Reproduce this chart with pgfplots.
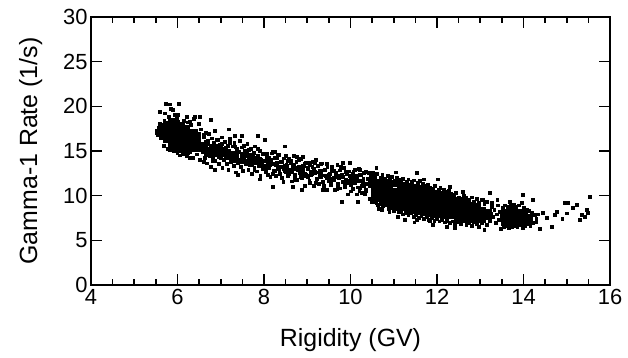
\documentclass[border=0pt]{standalone}
\usepackage{pgfplots}
\pgfplotsset{compat=1.18}
\usepackage{fontspec}
\setmainfont{Liberation Sans}
\usetikzlibrary{calc}
\begin{document}
\begin{tikzpicture}
\begin{axis}[
  scale only axis, width=519bp, height=268bp,
  xmin=4, xmax=16, ymin=0, ymax=30,
  xtick={4,6,...,16}, minor x tick num=3,
  ytick={0,5,...,30},
  tick align=inside, xtick pos=both, ytick pos=both,
  major tick length=11bp, minor tick length=6bp,
  axis line style={line width=2bp},
  every tick/.style={black, line width=1.6bp},
  /pgf/number format/assume math mode=true,
  tick label style={font=\fontsize{22}{24}\selectfont},
  xticklabel style={yshift=-1bp},
  label style={font=\fontsize{25}{27}\selectfont},
  xlabel={Rigidity (GV)}, ylabel={Gamma-1 Rate (1/s)},
  xlabel style={yshift=-17bp},
  ylabel style={yshift=14bp},
  clip=false,
]
% dense core (larger squares)
\addplot[only marks, mark=square*, mark size=2.7bp, black, mark options={line width=0pt}] coordinates {
(5.56,17.1)(5.62,16.9)(5.62,17.5)
(5.74,16.3)(5.74,16.9)(5.74,17.5)(5.74,18.0)
(5.86,15.5)(5.86,16.0)(5.86,16.6)(5.86,17.2)(5.86,17.8)(5.86,18.3)
(5.98,15.3)(5.98,15.8)(5.98,16.4)(5.98,17.0)(5.98,17.6)(5.98,18.1)
(6.10,15.1)(6.10,15.6)(6.10,16.2)(6.10,16.8)(6.10,17.4)(6.10,17.9)
(6.22,14.9)(6.22,15.4)(6.22,16.0)(6.22,16.6)(6.22,17.1)(6.22,17.6)
(6.34,15.3)(6.34,15.9)(6.34,16.5)(6.34,17.1)
(6.46,15.2)(6.46,15.8)(6.46,16.3)(6.46,16.8)
(6.62,15.0)(6.62,15.6)(6.80,14.7)(6.80,15.3)(6.98,14.5)(6.98,15.0)
(7.16,14.3)(7.34,14.0)(7.34,14.6)(7.52,13.9)(7.70,13.6)
(10.55,9.9)(10.55,10.45)(10.55,11.0)(10.55,11.6)
(10.67,9.6)(10.67,10.15)(10.67,10.7)(10.67,11.25)(10.67,11.55)
(10.79,9.35)(10.79,9.9)(10.79,10.45)(10.79,11.0)(10.79,11.5)
(10.91,9.1)(10.91,9.65)(10.91,10.2)(10.91,10.75)(10.91,11.4)
(11.03,8.9)(11.03,9.45)(11.03,10.0)(11.03,10.55)(11.03,11.3)
(11.15,8.75)(11.15,9.3)(11.15,9.85)(11.15,10.4)(11.15,10.95)(11.15,11.25)
(11.27,8.6)(11.27,9.15)(11.27,9.7)(11.27,10.25)(11.27,10.8)(11.27,11.2)
(11.39,8.45)(11.39,9.0)(11.39,9.55)(11.39,10.1)(11.39,10.65)(11.39,11.1)
(11.51,8.3)(11.51,8.85)(11.51,9.4)(11.51,9.95)(11.51,10.5)(11.51,11.0)
(11.63,8.2)(11.63,8.75)(11.63,9.3)(11.63,9.85)(11.63,10.4)(11.63,10.85)
(11.75,8.1)(11.75,8.65)(11.75,9.2)(11.75,9.75)(11.75,10.3)(11.75,10.7)
(11.87,8.0)(11.87,8.55)(11.87,9.1)(11.87,9.65)(11.87,10.2)(11.87,10.55)
(11.99,7.9)(11.99,8.45)(11.99,9.0)(11.99,9.55)(11.99,10.3)
(12.11,7.85)(12.11,8.4)(12.11,8.95)(12.11,9.5)(12.11,10.15)
(12.23,7.8)(12.23,8.35)(12.23,8.9)(12.23,9.45)(12.23,9.95)
(12.35,7.7)(12.35,8.25)(12.35,8.8)(12.35,9.35)(12.35,9.7)
(12.47,7.4)(12.47,7.95)(12.47,8.5)(12.47,9.05)(12.47,9.45)
(12.59,7.35)(12.59,7.9)(12.59,8.45)(12.59,9.0)(12.59,9.35)
(12.71,7.3)(12.71,7.85)(12.71,8.4)(12.71,8.95)(12.71,9.3)
(12.83,7.3)(12.83,7.85)(12.83,8.4)(12.83,8.9)
(12.95,7.25)(12.95,7.8)(12.95,8.35)(12.95,8.85)
(13.07,7.3)(13.07,7.85)(13.07,8.4)
(13.19,7.6)(13.19,8.2)
(13.55,7.0)(13.55,7.55)(13.55,8.1)
(13.67,6.95)(13.67,7.5)(13.67,8.05)(13.67,8.5)
(13.79,6.95)(13.79,7.5)(13.79,8.05)(13.79,8.5)
(13.91,7.0)(13.91,7.55)(13.91,8.1)
(14.03,7.0)(14.03,7.55)(14.03,8.05)
(14.15,7.1)(14.15,7.6)
};
% medium points along the middle of the band
\addplot[only marks, mark=square*, mark size=2.0bp, black, mark options={line width=0pt}] coordinates {
(6.7,15.2)(6.7,14.6)(6.9,15.5)(6.9,14.6)(7.1,14.9)(7.3,14.7)(7.3,14.1)(7.5,14.6)(7.7,14.3)(7.7,13.7)
(7.9,14.0)(8.1,13.8)(8.1,13.2)(8.3,13.5)(8.5,13.3)(8.5,12.8)(8.7,13.0)(8.9,12.9)(8.9,12.3)(9.1,12.6)
(9.3,12.5)(9.5,12.0)(9.7,12.2)(9.9,11.6)(10.1,11.9)(10.3,11.2)
};
% individual points
\addplot[only marks, mark=square*, mark size=1.4bp, black, mark options={line width=0pt}] coordinates {
(5.52,17.2)(5.55,16.8)(5.58,17.6)(5.6,18.0)(5.62,16.4)(5.65,17.9)(5.68,15.6)(5.7,18.4)(5.72,19.2)(5.75,17.0)
(5.78,15.2)(5.8,18.8)(5.82,20.2)(5.85,16.0)(5.88,18.2)(5.9,19.6)(5.92,15.0)(5.95,17.4)(5.98,18.6)(6.0,14.8)
(6.02,19.0)(6.05,15.4)(6.08,18.0)(6.1,17.8)(6.12,14.6)(6.15,18.4)(6.18,15.0)(6.2,17.6)(6.22,14.4)(6.25,18.2)
(6.28,16.8)(6.3,14.9)(6.32,17.9)(6.35,14.2)(6.38,18.6)(6.4,15.6)(6.42,17.2)(6.45,14.6)(6.48,16.4)(6.5,18.0)
(6.52,14.0)(6.55,17.4)(6.58,15.2)(6.6,16.8)(6.62,13.8)(6.65,17.0)
(8.49,15.5)(8.25,14.9)(8.76,14.3)(8.9,14.3)(9.18,13.7)(9.83,13.7)(9.99,13.7)(10.22,12.9)(10.6,13.1)(11.54,12.5)(10.52,12.5)
(8.02,16.2)(7.86,16.7)(7.49,16.7)(7.33,16.7)(7.19,17.4)(6.77,18.5)(6.52,18.8)(6.4,18.8)(6.22,18.8)(6.29,18.3)
(5.94,19.0)(5.85,19.7)(5.6,19.4)(6.03,20.3)(5.73,20.3)
(8.88,10.6)(9.36,10.6)(9.8,9.3)(10.17,9.3)(10.5,9.3)(10.73,8.4)(10.9,8.2)(11.26,7.3)(11.54,7.3)(11.84,7.1)
(6.87,12.9)(7.4,12.3)(7.9,11.8)(8.2,11.0)(8.67,11.0)(5.83,15.1)(6.06,14.5)(6.29,14.2)
(6.62,16.6)(6.64,14.2)(6.66,16.0)(6.68,13.6)(6.7,15.8)(6.72,16.9)(6.74,14.4)(6.76,15.0)(6.78,13.2)(6.8,16.4)
(6.82,14.1)(6.84,15.9)(6.86,17.2)(6.88,13.9)(6.9,15.4)(6.92,14.6)(6.94,16.2)(6.96,13.5)(6.98,15.7)(7.0,14.2)
(7.02,16.5)(7.04,13.1)(7.06,15.1)(7.08,14.0)(7.1,16.0)(7.12,14.8)(7.14,13.6)(7.16,15.6)(7.18,12.9)(7.2,15.0)
(7.22,16.3)(7.24,13.8)(7.26,14.5)(7.28,15.5)(7.3,13.3)(7.32,15.9)(7.34,14.2)(7.36,12.6)(7.38,15.2)(7.4,13.6)
(7.42,14.9)(7.44,16.1)(7.46,13.2)(7.48,14.5)(7.5,15.4)(7.52,12.8)(7.54,14.1)(7.56,15.0)(7.58,13.5)(7.6,14.7)
(7.62,15.8)(7.64,12.9)(7.66,14.3)(7.68,13.4)(7.7,15.2)(7.72,12.4)(7.74,14.0)(7.76,14.8)(7.78,13.1)(7.8,15.5)
(7.82,13.7)(7.84,12.7)(7.86,14.4)(7.88,13.3)(7.9,15.0)(7.92,12.2)(7.94,14.0)(7.96,13.5)(7.98,14.6)
(6.65,15.3)(6.71,14.8)(6.77,15.6)(6.83,14.5)(6.89,15.2)(6.95,14.9)(7.01,15.3)(7.07,14.5)(7.13,15.3)(7.19,14.2)
(7.25,14.8)(7.31,14.6)(7.37,14.3)(7.43,14.0)(7.49,13.8)(7.55,14.4)(7.61,13.9)(7.67,14.6)(7.73,13.5)(7.79,14.2)
(7.85,13.9)(7.91,13.6)(7.97,13.0)
(6.62,15.48)(6.66,14.64)(6.70,16.09)(6.74,14.85)(6.78,15.61)(6.82,13.86)(6.86,15.02)(6.90,16.28)(6.94,15.14)(6.98,14.29)
(7.02,15.75)(7.06,14.51)(7.10,15.27)(7.14,13.52)(7.18,14.68)(7.22,15.94)(7.26,14.79)(7.30,13.95)(7.34,15.41)(7.38,14.17)
(7.42,14.92)(7.46,13.18)(7.50,14.34)(7.54,15.59)(7.58,14.45)(7.62,13.61)(7.66,15.07)(7.70,13.82)(7.74,14.58)(7.78,12.84)
(7.82,13.99)(7.86,15.25)(7.90,14.11)(7.94,13.27)(7.98,14.72)(8.02,13.35)(8.06,14.04)(8.10,12.30)(8.14,13.47)(8.18,14.73)
(8.22,13.59)(8.26,12.75)(8.30,14.21)(8.34,12.97)(8.38,13.74)(8.42,12.00)(8.46,13.16)(8.50,14.42)(8.54,13.28)(8.58,12.44)
(8.62,13.90)(8.66,12.67)(8.70,13.43)(8.74,11.69)(8.78,12.85)(8.82,14.11)(8.86,12.97)(8.90,12.14)(8.94,13.60)(8.98,12.36)
(9.02,13.12)(9.06,11.38)(9.10,12.54)(9.14,13.81)(9.18,12.67)(9.22,11.83)(9.26,13.29)(9.30,12.05)(9.34,12.81)(9.38,11.08)
(9.42,12.24)(9.46,13.50)(9.50,12.36)(9.54,11.52)(9.58,12.98)(9.62,11.74)(9.66,12.51)(9.70,10.77)(9.74,11.93)(9.78,13.19)
(9.82,12.05)(9.86,11.21)(9.90,12.68)(9.94,11.44)(9.98,12.20)(10.02,10.46)(10.06,11.62)(10.10,12.88)(10.14,11.75)(10.18,10.91)
(10.22,12.37)(10.26,11.13)(10.30,11.89)(10.34,10.15)(10.38,11.32)(10.42,12.58)(10.46,11.44)
(8.02,13.88)(8.05,12.65)(8.07,14.63)(8.10,13.30)(8.12,14.18)(8.15,12.06)(8.17,13.54)(8.20,14.91)(8.22,12.79)(8.25,14.26)
(8.27,12.24)(8.30,13.71)(8.32,12.99)(8.35,14.56)(8.37,12.44)(8.40,13.22)(8.42,13.80)(8.45,11.57)(8.47,14.15)(8.50,12.72)
(8.52,13.40)(8.55,12.17)(8.57,14.15)(8.60,12.82)(8.62,13.70)(8.65,11.58)(8.67,13.06)(8.70,14.43)(8.72,12.31)(8.75,13.78)
(8.77,11.76)(8.80,13.23)(8.82,12.51)(8.85,14.08)(8.87,11.96)(8.90,12.74)(8.92,13.32)(8.95,11.09)(8.97,13.67)(9.00,12.24)
(9.02,12.92)(9.05,11.69)(9.07,13.67)(9.10,12.34)(9.12,13.22)(9.15,11.10)(9.17,12.58)(9.20,13.95)(9.22,11.83)(9.25,13.30)
(9.27,11.28)(9.30,12.75)(9.32,12.03)(9.35,13.60)(9.37,11.48)(9.40,12.26)(9.42,12.84)(9.45,10.61)(9.47,13.19)(9.50,11.76)
(9.52,12.44)(9.55,11.21)(9.57,13.19)(9.60,11.86)(9.62,12.74)(9.65,10.62)(9.67,12.10)(9.70,13.47)(9.72,11.35)(9.75,12.82)
(9.77,10.80)(9.80,12.27)(9.82,11.55)(9.85,13.12)(9.87,11.00)(9.90,11.78)(9.92,12.36)(9.95,10.13)(9.97,12.71)(10.00,11.28)
(10.02,11.96)(10.05,10.73)(10.07,12.71)(10.10,11.38)(10.12,12.26)(10.15,10.14)(10.17,11.62)(10.20,12.99)(10.22,10.87)(10.25,12.34)
(10.27,10.32)(10.30,11.79)(10.32,11.07)(10.35,12.64)(10.37,10.52)(10.40,11.30)(10.42,11.88)(10.45,9.65)(10.47,12.23)
(8.01,13.09)(8.06,14.34)(8.11,13.39)(8.16,13.95)(8.21,12.40)(8.26,13.55)(8.31,14.50)(8.36,12.55)(8.41,13.81)(8.46,12.96)
(8.51,12.61)(8.56,13.86)(8.61,12.91)(8.66,13.47)(8.71,11.92)(8.76,13.07)(8.81,14.02)(8.86,12.07)(8.91,13.33)(8.96,12.48)
(9.01,12.13)(9.06,13.38)(9.11,12.43)(9.16,12.99)(9.21,11.44)(9.26,12.59)(9.31,13.54)(9.36,11.59)(9.41,12.85)(9.46,12.00)
(9.51,11.65)(9.56,12.90)(9.61,11.95)(9.66,12.51)(9.71,10.96)(9.76,12.11)(9.81,13.06)(9.86,11.11)(9.91,12.37)(9.96,11.52)
(10.01,11.17)(10.06,12.42)(10.11,11.47)(10.16,12.03)(10.21,10.48)(10.26,11.63)(10.31,12.58)(10.36,10.63)(10.41,11.89)(10.46,11.04)
(10.48,11.9)(10.52,12.2)(10.58,12.1)(10.62,12.4)(10.7,12.0)(10.74,12.3)(10.8,11.9)(10.86,12.2)(10.92,11.8)(10.96,12.1)
(11.02,11.7)(11.08,12.0)(11.12,11.8)(11.18,11.6)(11.22,11.9)(11.3,11.5)(11.34,11.8)(11.42,11.5)(11.46,11.7)(11.56,11.4)
(11.6,11.6)(11.68,11.3)(11.72,11.1)(11.8,11.2)(11.84,10.9)(11.92,10.8)(11.96,11.1)(12.04,10.7)(12.08,10.9)(12.16,10.6)
(12.2,10.4)(12.28,10.5)(12.32,10.2)(12.4,10.1)(12.44,10.3)(11.06,12.6)(11.7,11.8)(12.02,11.8)(12.3,11.0)
(10.48,9.6)(10.54,9.3)(10.6,9.2)(10.64,9.0)(10.7,9.1)(10.76,8.8)(10.82,8.9)(10.88,8.5)(10.94,8.6)(11.0,8.3)
(11.06,8.5)(11.12,8.2)(11.18,8.3)(11.22,7.9)(11.28,8.1)(11.34,7.8)(11.4,8.0)(11.46,7.6)(11.52,7.8)(11.58,7.5)
(11.64,7.7)(11.7,7.4)(11.76,7.6)(11.82,7.3)(11.88,7.5)(11.94,7.2)(12.0,7.4)(12.06,7.1)(12.12,7.3)(12.18,7.0)
(12.24,7.2)(12.3,6.9)(12.36,7.1)(12.42,6.8)(10.66,8.5)(11.1,7.6)(11.48,7.0)(11.9,6.7)(12.23,6.5)(12.42,6.4)
(12.5,9.8)(12.56,9.6)(12.62,10.0)(12.68,9.7)(12.74,9.5)(12.8,9.8)(12.86,9.3)(12.92,9.6)(12.98,9.2)(13.04,9.5)
(13.1,9.1)(13.16,9.3)(13.22,10.3)(13.06,9.5)(12.6,10.4)
(12.5,7.0)(12.56,6.8)(12.62,7.1)(12.68,6.7)(12.74,6.9)(12.8,6.6)(12.86,7.0)(12.92,6.8)(12.98,6.5)(13.04,6.9)
(13.1,6.2)(13.16,6.7)
(13.22,7.2)(13.25,8.0)(13.28,8.7)(13.3,7.6)(13.33,8.4)(13.36,6.9)(13.38,7.9)(13.41,8.9)(13.44,7.3)(13.46,8.2)
(13.48,6.3)(13.5,7.7)(13.27,9.2)(13.4,9.5)
(13.52,8.6)(13.58,8.9)(13.64,8.7)(13.69,9.3)(13.72,8.8)(13.78,9.0)(13.84,8.7)(13.9,8.9)(13.96,9.2)(13.99,10.1)
(14.02,8.6)(14.08,8.4)(14.14,8.3)(14.2,8.1)(14.22,9.5)(14.26,7.8)(14.3,7.4)(14.34,7.9)
(13.54,6.5)(13.6,6.6)(13.66,6.4)(13.73,6.5)(13.8,6.6)(13.86,6.5)(13.92,6.7)(13.98,6.4)(14.04,6.6)(14.1,6.8)
(14.16,6.6)(14.22,6.9)(14.28,7.0)(14.38,6.3)
(14.45,8.05)(14.66,6.5)(14.73,7.8)(14.78,8.2)(14.96,9.2)(15.03,9.2)(15.0,8.0)(15.24,9.0)(15.3,7.3)(15.35,7.8)
(15.47,8.4)(15.5,8.05)(15.54,9.85)(14.55,7.5)(14.9,7.4)(15.15,8.6)(15.42,7.6)
};
\end{axis}
\pgfresetboundingbox
\useasboundingbox ($(current axis.south west)+(-91bp,-73bp)$) rectangle ($(current axis.north east)+(18bp,17bp)$);
\end{tikzpicture}
\end{document}
